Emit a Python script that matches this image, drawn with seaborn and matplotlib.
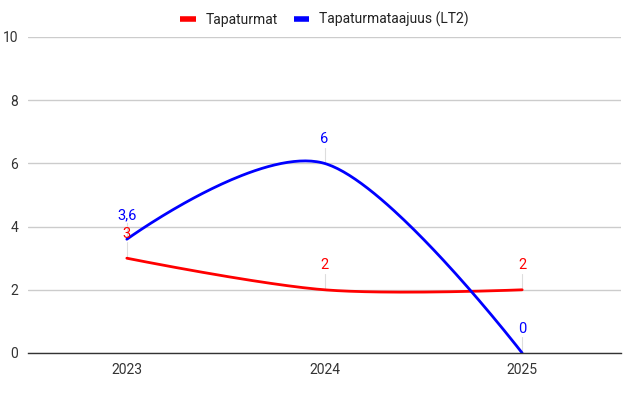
import numpy as np
import pandas as pd
import seaborn as sns
import matplotlib.pyplot as plt

years = ['2023', '2024', '2025']
tapaturmat = [3, 2, 2]
taajuus = [3.6, 6, 0]
labels_tap = ['3', '2', '2']
labels_taaj = ['3,6', '6', '0']


def smooth(y, n=80, t=1/6):
    # 2d bezier curve through the points, roughly like google charts curveType 'function'
    P = np.column_stack([np.arange(len(y), dtype=float), np.asarray(y, dtype=float)])
    out = []
    for i in range(len(P) - 1):
        p0, p3 = P[i], P[i + 1]
        p1 = p0 + (P[i + 1] - P[i - 1]) * t if i > 0 else p0
        p2 = p3 - (P[i + 2] - P[i]) * t if i + 2 < len(P) else p3
        s = np.linspace(0, 1, n)[:, None]
        out.append((1-s)**3*p0 + 3*(1-s)**2*s*p1 + 3*(1-s)*s**2*p2 + s**3*p3)
    c = np.vstack(out)
    return c[:, 0], c[:, 1]


rows = []
for name, vals in [('Tapaturmat', tapaturmat), ('Tapaturmataajuus (LT2)', taajuus)]:
    sx, sy = smooth(vals)
    rows.append(pd.DataFrame({'x': sx, 'value': sy, 'series': name}))
df = pd.concat(rows, ignore_index=True)

sns.set_style('white')
plt.rcParams['font.family'] = ['Roboto', 'DejaVu Sans']

fig = plt.figure(figsize=(6.33, 3.98), dpi=100)
ax = fig.add_axes([28/633, 45/398, 593/633, 316/398])

palette = {'Tapaturmat': '#ff0000', 'Tapaturmataajuus (LT2)': '#0000ff'}
sns.lineplot(data=df, x='x', y='value', hue='series', palette=palette,
             linewidth=2, sort=False, estimator=None, ax=ax)

ax.set_xlim(-0.5, 2.5)
ax.set_ylim(0, 10)
ax.set_yticks([0, 2, 4, 6, 8, 10])
ax.set_xticks(range(len(years)))
ax.set_xticklabels(years)
ax.grid(axis='y', color='#cccccc', linewidth=1)
ax.set_axisbelow(True)
for s in ['top', 'right', 'left']:
    ax.spines[s].set_visible(False)
ax.spines['bottom'].set_color('#333333')
ax.spines['bottom'].set_linewidth(1)
ax.tick_params(axis='both', length=0, labelsize=10, labelcolor='#333333')
ax.tick_params(axis='y', pad=7)
ax.tick_params(axis='x', pad=7)
ax.set_xlabel('')
ax.set_ylabel('')

# data labels with small leader lines
off = 0.5
for vals, labs, col in [(tapaturmat, labels_tap, '#ff0000'), (taajuus, labels_taaj, '#0000ff')]:
    for i, (v, lab) in enumerate(zip(vals, labs)):
        ax.plot([i, i], [v, v + off], color='#dddddd', linewidth=0.8, zorder=1)
        ax.text(i, v + off + 0.05, lab, color=col, fontsize=10.5, ha='center', va='bottom')

ax.legend(handles=ax.get_legend().legend_handles, labels=['Tapaturmat', 'Tapaturmataajuus (LT2)'],
          loc='lower center', bbox_to_anchor=(0.5, 1.0), ncol=2, frameon=False,
          fontsize=10, handlelength=1.1, handletextpad=0.7, columnspacing=1.2,
          labelcolor='#222222', borderaxespad=0.3)
for h in ax.get_legend().legend_handles:
    h.set_linewidth(4)
    h.set_solid_capstyle('butt')

fig.savefig('out.png', dpi=100)
